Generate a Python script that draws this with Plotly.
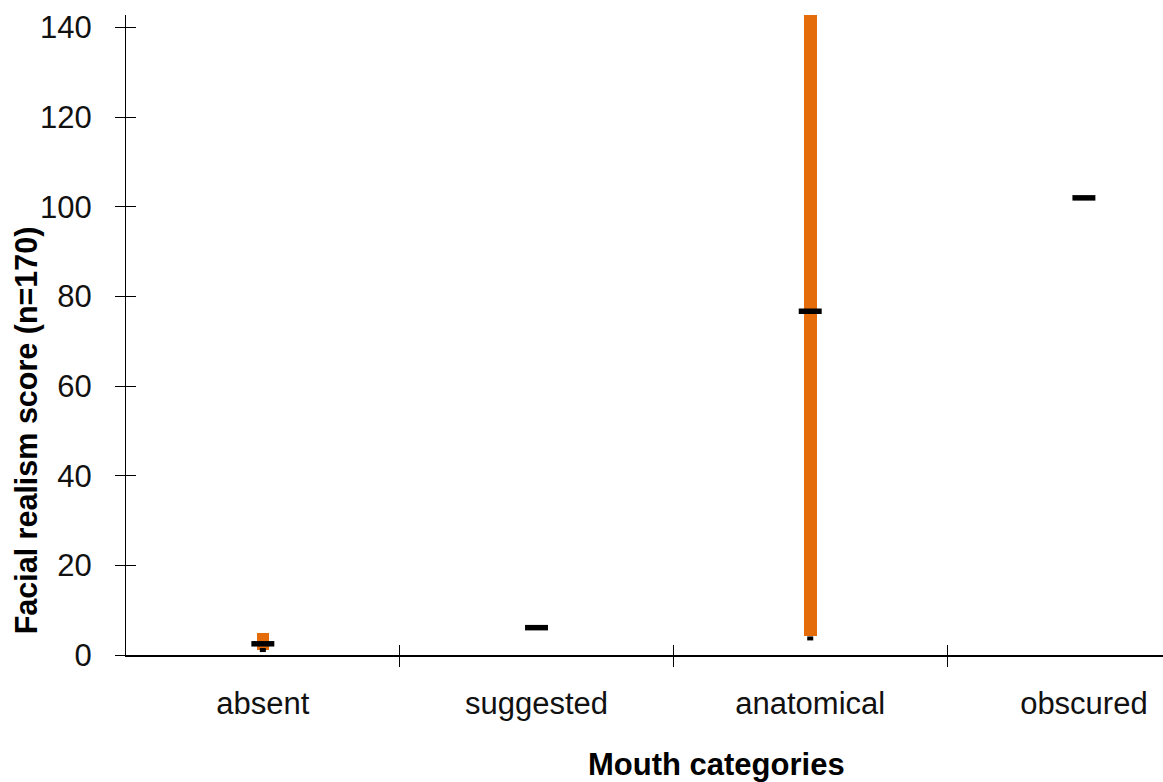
import plotly.graph_objects as go

# Mouth categories and facial realism scores
categories = ["absent", "suggested", "anatomical", "obscured"]
range_low = [1.1, None, 4.2, None]
range_high = [5.0, None, 148.0, None]
mean_score = [2.5, 6.1, 76.7, 102.0]
min_score = [1.1, None, 3.7, None]

x_pos = list(range(len(categories)))
ORANGE = "#E46C0A"
FONT = "Liberation Sans, Arial, sans-serif"

fig = go.Figure()

# orange high-low range bars
fig.add_trace(go.Bar(
    x=x_pos,
    base=range_low,
    y=[(h - l) if (h is not None and l is not None) else None
       for h, l in zip(range_high, range_low)],
    width=0.046,
    marker=dict(color=ORANGE, line=dict(width=0)),
    showlegend=False,
    hoverinfo="skip",
))

# mean dash
fig.add_trace(go.Scatter(
    x=x_pos, y=mean_score, mode="markers",
    marker=dict(symbol="line-ew", size=16.4, color="black",
                line=dict(color="black", width=5.5)),
    showlegend=False, cliponaxis=False,
))

# small minimum marks
fig.add_trace(go.Scatter(
    x=x_pos, y=min_score, mode="markers",
    marker=dict(symbol="line-ew", size=4.3, color="black",
                line=dict(color="black", width=4)),
    showlegend=False,
))

x_range = [-0.5, 3.289]
y_range = [0, 142.8]
boundaries = [0.5, 1.5, 2.5]

fig.update_layout(
    width=1163, height=782,
    margin=dict(l=126, r=0, t=15, b=126.5),
    paper_bgcolor="white", plot_bgcolor="white",
    font=dict(family=FONT, size=30, color="black"),
    bargap=0,
    xaxis=dict(
        range=x_range, tickmode="array", tickvals=x_pos, ticktext=categories,
        ticks="", showgrid=False, zeroline=False,
        showline=True, linecolor="black", linewidth=1.5,
        tickfont=dict(size=31, color="#111"), ticklabelstandoff=20,
        minor=dict(tickmode="array", tickvals=boundaries, ticks="outside",
                   ticklen=10, tickcolor="black", tickwidth=1.2, showgrid=False),
    ),
    xaxis2=dict(
        range=x_range, overlaying="x", anchor="y", side="bottom",
        tickmode="array", tickvals=boundaries, ticks="inside", ticklen=10,
        tickcolor="black", tickwidth=1.2, showticklabels=False,
        showgrid=False, zeroline=False, showline=False,
    ),
    yaxis=dict(
        range=y_range, tickmode="linear", tick0=0, dtick=20,
        ticks="outside", ticklen=10, tickcolor="black", tickwidth=1.2,
        showgrid=False, zeroline=False,
        showline=True, linecolor="black", linewidth=1.2,
        tickfont=dict(size=31, color="#111"), ticklabelstandoff=17,
    ),
    yaxis2=dict(
        range=y_range, overlaying="y", anchor="x", side="left",
        tickmode="linear", tick0=0, dtick=20,
        ticks="inside", ticklen=10, tickcolor="black", tickwidth=1.2,
        showticklabels=False, showgrid=False, zeroline=False, showline=False,
    ),
    annotations=[
        dict(text="<b>Facial realism score (n=170)</b>", textangle=-90,
             xref="paper", yref="paper", x=-0.0958, y=0.3505,
             xanchor="center", yanchor="middle", showarrow=False,
             font=dict(size=30.5, color="black", family=FONT)),
        dict(text="<b>Mouth categories</b>",
             xref="paper", yref="paper", x=0.569, y=-0.171,
             xanchor="center", yanchor="middle", showarrow=False,
             font=dict(size=31, color="black", family=FONT)),
    ],
)

# invisible traces so the overlay axes are drawn
fig.add_trace(go.Scatter(x=[None], y=[None], xaxis="x2", yaxis="y2",
                         showlegend=False, hoverinfo="skip"))

fig.write_html("out.html")
